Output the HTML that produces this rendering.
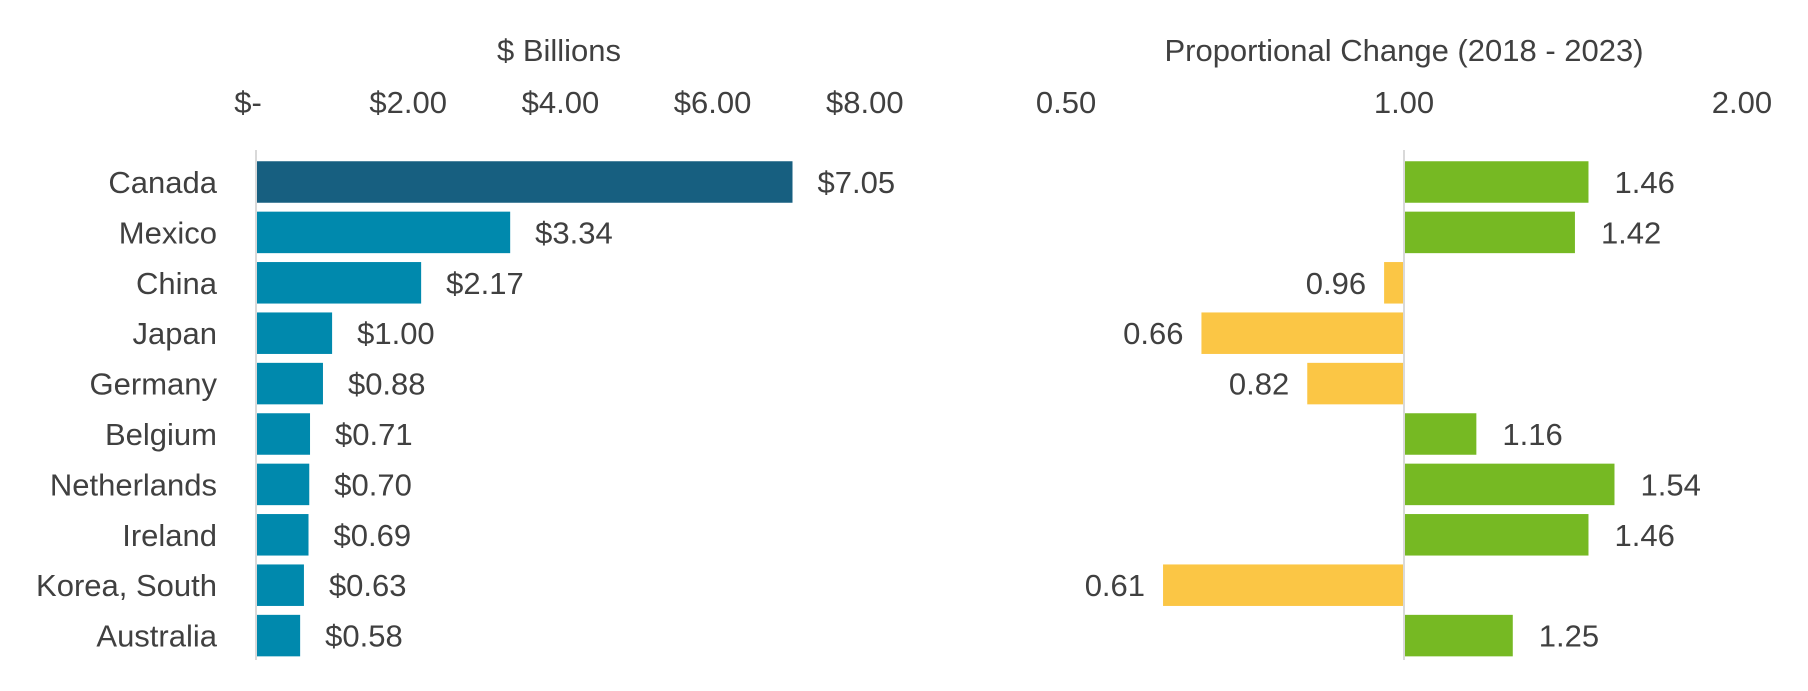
<!DOCTYPE html>
<html><head><meta charset="utf-8"><style>
body{margin:0;background:#fff;}
svg text{font-family:"Liberation Sans",sans-serif;fill:#404040;}
</style></head><body>
<svg width="1808" height="686" id="c"></svg>
<script>
const categories=["Canada","Mexico","China","Japan","Germany","Belgium","Netherlands","Ireland","Korea, South","Australia"];
const billions=[7.05,3.34,2.17,1.00,0.88,0.71,0.70,0.69,0.63,0.58];
const billionLabels=["$7.05","$3.34","$2.17","$1.00","$0.88","$0.71","$0.70","$0.69","$0.63","$0.58"];
const ratios=[1.46,1.42,0.96,0.66,0.82,1.16,1.54,1.46,0.61,1.25];
const leftTicks=[0,2,4,6,8];
const leftTickLabels=["$-","$2.00","$4.00","$6.00","$8.00"];
const rightTicks=[0.5,1,2];
const rightTickLabels=["0.50","1.00","2.00"];

const NS="http://www.w3.org/2000/svg";
const svg=document.getElementById('c');
function mk(tag,attrs,txt){const e=document.createElementNS(NS,tag);for(const k in attrs)e.setAttribute(k,attrs[k]);if(txt!==undefined)e.textContent=txt;svg.appendChild(e);return e;}
const x0=256, kx=76.1;
const xL=v=>x0+v*kx;
const xR=v=>1404+337.9*Math.log2(v);
const rowY=i=>182+i*50.4;
const bh=41.5;
const FS=31;

let t;
t=mk('text',{x:559,y:61,'text-anchor':'middle','font-size':FS},'$ Billions');


t=mk('text',{x:1404,y:61,'text-anchor':'middle','font-size':FS},'Proportional Change (2018 - 2023)');



leftTicks.forEach((v,i)=>{
  const e=mk('text',{x:xL(v)-(v===0?8:0),y:113,'text-anchor':'middle','font-size':FS},leftTickLabels[i]);
  
  
});
rightTicks.forEach((v,i)=>{
  const e=mk('text',{x:xR(v),y:113,'text-anchor':'middle','font-size':FS},rightTickLabels[i]);
  
  
});

categories.forEach((c,i)=>{
  const cy=rowY(i);
  let e=mk('text',{x:217,y:cy+11,'text-anchor':'end','font-size':FS},c);
  
  
  e=mk('rect',{x:xL(0),y:cy-bh/2,width:xL(billions[i])-xL(0),height:bh,fill:i===0?'#175f80':'#0089ad'});
  
  
  e=mk('text',{x:xL(billions[i])+25,y:cy+11,'font-size':FS},billionLabels[i]);
  
  
  const r=ratios[i], a=xR(1), b=xR(r);
  e=mk('rect',{x:Math.min(a,b),y:cy-bh/2,width:Math.abs(b-a),height:bh,fill:r>=1?'#76b923':'#fbc645'});
  
  
  e=mk('text',{x:r>=1?b+26:b-18,y:cy+11,'text-anchor':r>=1?'start':'end','font-size':FS},r.toFixed(2));
  
  
});
let l=mk('line',{x1:x0,x2:x0,y1:150,y2:660,stroke:'#d9d9d9','stroke-width':2});


l=mk('line',{x1:xR(1),x2:xR(1),y1:150,y2:660,stroke:'#d9d9d9','stroke-width':2});


</script>
</body></html>
